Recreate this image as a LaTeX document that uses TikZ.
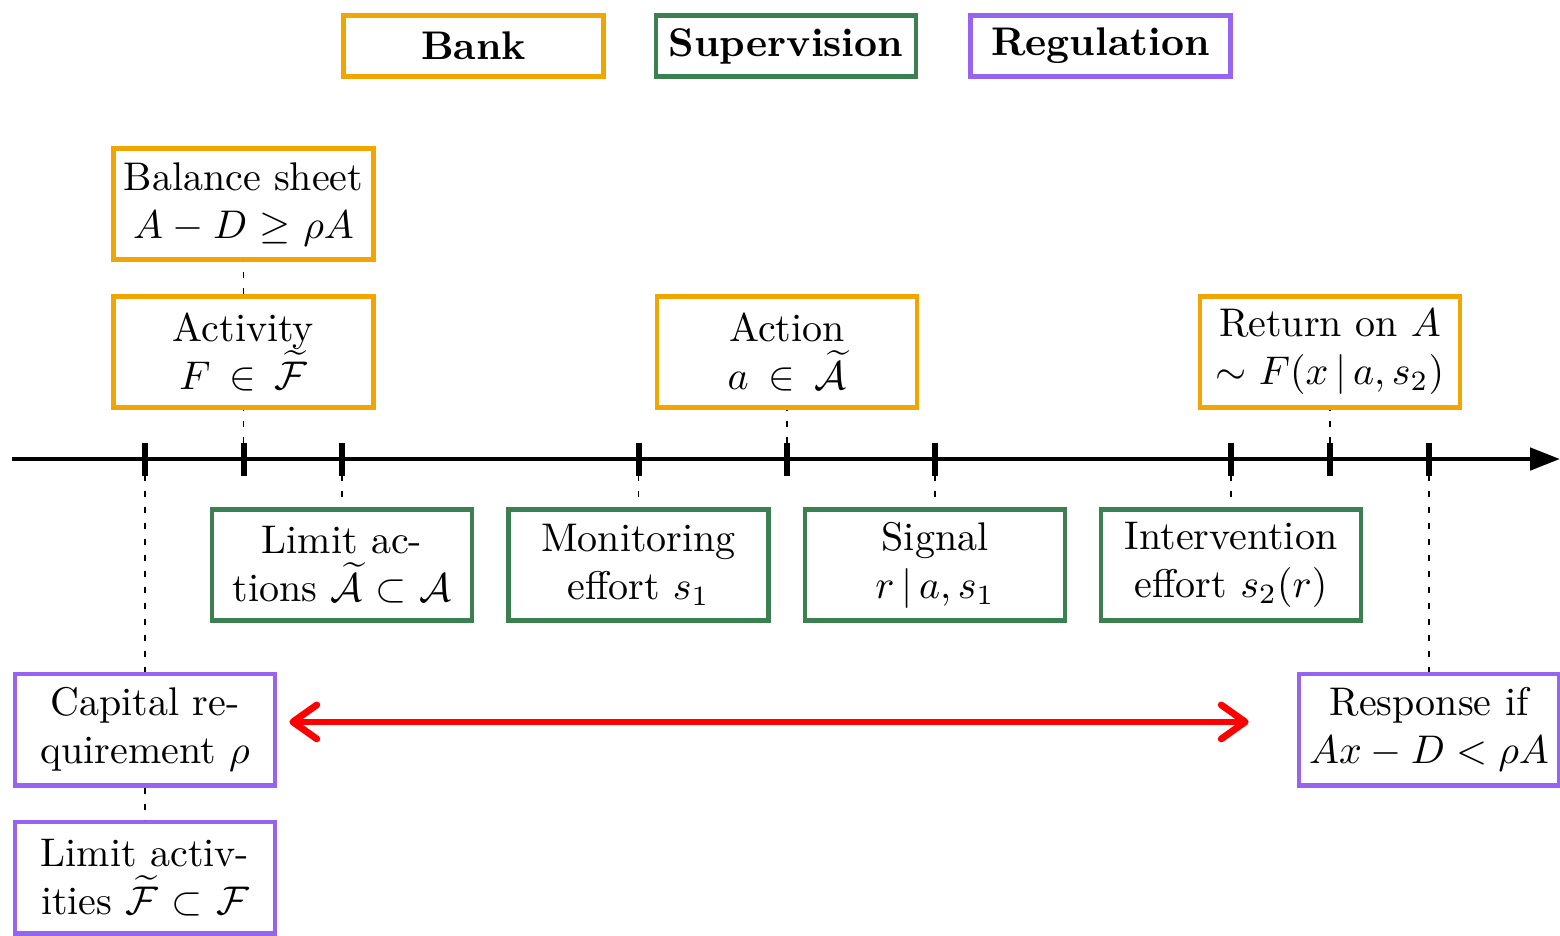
\documentclass[tikz,border=0pt]{standalone}
\usetikzlibrary{arrows.meta}
\definecolor{bankcol}{RGB}{240,165,0}
\definecolor{supcol}{RGB}{60,128,82}
\definecolor{regcol}{RGB}{150,100,240}
\tikzset{
  x=0.25pt, y=-0.25pt,
  box/.style={draw, line width=1.2pt, fill=white, minimum width=65pt, minimum height=27.8pt,
              text width=60pt, align=center, inner sep=2pt},
  legend/.style={draw, line width=1.2pt, minimum width=65pt, minimum height=15.3pt,
                 font=\bfseries, inner sep=1pt},
  bank/.style={box, draw=bankcol},
  sup/.style={box, draw=supcol},
  reg/.style={box, draw=regcol},
  guide/.style={line width=0.4pt, dash pattern=on 1.5pt off 2.5pt},
  tick/.style={line width=1.5pt},
}
\begin{document}
\begin{tikzpicture}
\useasboundingbox (0,0) rectangle (1560,935);

% legend
\node[legend, draw=bankcol] (lbank) at (473.5,46) {Bank};
\node[legend, draw=supcol]  (lsup)  at (786,46) {Supervision};
\node[legend, draw=regcol]  (lreg)  at (1100.5,46) {Regulation};

% time line and its ticks
\coordinate (start) at (12,459);
\coordinate (end) at (1560,459);
\draw[line width=1.2pt, -{Triangle[length=7.5pt, width=5.5pt]}] (start) -- (end);
\foreach \n/\x in {1/145, 2/243.5, 3/342, 4/638.5, 5/787, 6/935, 7/1231, 8/1330, 9/1429} {
  \coordinate (t\n) at (\x,459);
  \draw[tick] (\x,443) -- (\x,476);
}

% bank
\node[bank] (bal) at (243.5,204) {Balance sheet\\ $A-D\geq\rho A$};
\node[bank] (act) at (243.5,352) {Activity\\ $F\in\widetilde{\mathcal F}$};
\node[bank] (action) at (787,352) {Action\\ $a\in\widetilde{\mathcal A}$};
\node[bank] (ret) at (1330,352) {Return on $A$\\ $\sim F(x\,|\,a,s_2)$};

% supervision
\node[sup] (lim) at (342,565) {Limit ac-\\tions $\widetilde{\mathcal A}\subset\mathcal A$};
\node[sup] (mon) at (638.5,565) {Monitoring\\ effort $s_1$};
\node[sup] (sig) at (935,565) {Signal\\ $r\,|\,a,s_1$};
\node[sup] (int) at (1231,565) {Intervention\\ effort $s_2(r)$};

% regulation
\node[reg] (cap) at (145,729.5) {Capital re-\\quirement $\rho$};
\node[reg] (limf) at (145,877.5) {Limit activ-\\ities $\widetilde{\mathcal F}\subset\mathcal F$};
\node[reg] (resp) at (1429,729.5) {Response if\\ $Ax-D<\rho A$};

% guides from the ticks to the boxes
\draw[guide] (t2) -- (act.south);
\draw[guide] (act.north) -- (bal.south);
\draw[guide] (t5) -- (action.south);
\draw[guide] (t8) -- (ret.south);
\draw[guide] (t3) -- (lim.north);
\draw[guide] (t4) -- (mon.north);
\draw[guide] (t6) -- (sig.north);
\draw[guide] (t7) -- (int.north);
\draw[guide] (t1) -- (cap.north);
\draw[guide] (cap.south) -- (limf.north);
\draw[guide] (t9) -- (resp.north);

% link between requirement and response
\draw[red, line width=1.7pt, line cap=round,
      {Straight Barb[round, length=6pt, width=8.5pt]}-{Straight Barb[round, length=6pt, width=8.5pt]}]
  ([shift={(3pt,1.9pt)}]cap.east) -- ([shift={(-12pt,1.9pt)}]resp.west);
\end{tikzpicture}
\end{document}
